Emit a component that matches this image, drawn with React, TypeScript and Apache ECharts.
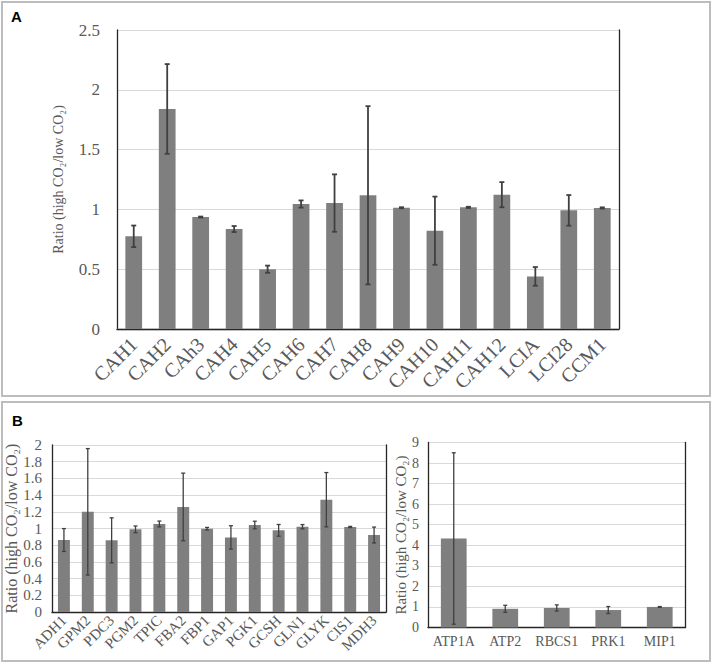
import React, { useEffect, useRef } from "react";
import * as echarts from "echarts";

// Panel A
const catsA = ["CAH1", "CAH2", "CAh3", "CAH4", "CAH5", "CAH6", "CAH7", "CAH8", "CAH9", "CAH10", "CAH11", "CAH12", "LCIA", "LCI28", "CCM1"];
const valsA = [0.775, 1.84, 0.936, 0.836, 0.5, 1.045, 1.053, 1.118, 1.014, 0.822, 1.017, 1.123, 0.44, 0.992, 1.012];
const errA = [0.09, 0.375, 0.004, 0.025, 0.03, 0.03, 0.24, 0.745, 0.004, 0.285, 0.005, 0.105, 0.078, 0.128, 0.005];

// Panel B (left)
const catsB1 = ["ADH1", "GPM2", "PDC3", "PGM2", "TPIC", "FBA2", "FBP1", "GAP1", "PGK1", "GCSH", "GLN1", "GLYK", "CIS1", "MDH3"];
const valsB1 = [0.862, 1.2, 0.858, 0.99, 1.054, 1.258, 0.998, 0.893, 1.042, 0.978, 1.022, 1.345, 1.018, 0.922];
const errB1 = [0.137, 0.757, 0.27, 0.04, 0.035, 0.405, 0.015, 0.14, 0.045, 0.07, 0.025, 0.325, 0.007, 0.095];

// Panel B (right)
const catsB2 = ["ATP1A", "ATP2", "RBCS1", "PRK1", "MIP1"];
const valsB2 = [4.33, 0.91, 0.95, 0.85, 1.0];
const errB2 = [4.17, 0.17, 0.15, 0.17, 0.02];

const yName = "Ratio (high CO\u2082/low CO\u2082)";

const SERIF = "'Liberation Serif', 'Times New Roman', serif";
const TXT = "#595959";
const GRID = "#d9d9d9";
const FRAME = "#262626";
const BAR = "#7f7f7f";
const ERR = "#404040";

function errData(vals: number[], errs: number[]) {
  return vals.map((v, i) => [i, v - errs[i], v + errs[i]]);
}

function errSeries(xi: number, yi: number, data: number[][], cap: number, lw: number) {
  return {
    type: "custom",
    xAxisIndex: xi,
    yAxisIndex: yi,
    z: 5,
    encode: { x: 0, y: [1, 2] },
    data,
    renderItem: (params: any, api: any) => {
      const x = api.value(0);
      const lo = api.coord([x, api.value(1)]);
      const hi = api.coord([x, api.value(2)]);
      const st = { stroke: ERR, lineWidth: lw };
      return {
        type: "group",
        children: [
          { type: "line", shape: { x1: hi[0], y1: hi[1], x2: lo[0], y2: lo[1] }, style: st },
          { type: "line", shape: { x1: hi[0] - cap, y1: hi[1], x2: hi[0] + cap, y2: hi[1] }, style: st },
          { type: "line", shape: { x1: lo[0] - cap, y1: lo[1], x2: lo[0] + cap, y2: lo[1] }, style: st },
        ],
      };
    },
  };
}

function frameX(gi: number, cats: string[]) {
  return {
    type: "category",
    gridIndex: gi,
    position: "top",
    data: cats,
    axisLine: { show: true, lineStyle: { color: FRAME, width: 1.3 } },
    axisTick: { show: false },
    axisLabel: { show: false },
    splitLine: { show: false },
  };
}

function frameY(gi: number, max: number) {
  return {
    type: "value",
    gridIndex: gi,
    position: "right",
    min: 0,
    max,
    axisLine: { show: true, lineStyle: { color: FRAME, width: 1.3 } },
    axisTick: { show: false },
    axisLabel: { show: false },
    splitLine: { show: false },
  };
}

export default function App() {
  const ref = useRef<HTMLDivElement>(null);
  useEffect(() => {
    if (!ref.current) return;
    const chart = echarts.init(ref.current, null, { renderer: "svg" });
    chart.setOption({
      animation: false,
      backgroundColor: "#ffffff",
      grid: [
        { left: 117, top: 30, width: 502, height: 299 },
        { left: 52, top: 445, width: 334, height: 167 },
        { left: 428, top: 442.5, width: 257.5, height: 185 },
      ],
      graphic: [
        { type: "rect", shape: { x: 2, y: 2, width: 708, height: 394 }, style: { fill: "none", stroke: "#bdbdbd", lineWidth: 2 } },
        { type: "rect", shape: { x: 2, y: 402, width: 708, height: 259 }, style: { fill: "none", stroke: "#bdbdbd", lineWidth: 2 } },
        { type: "text", x: 11, y: 9, style: { text: "A", font: "bold 15px 'Liberation Sans', Arial, sans-serif", fill: "#000" } },
        { type: "text", x: 12, y: 413, style: { text: "B", font: "bold 15px 'Liberation Sans', Arial, sans-serif", fill: "#000" } },
      ],
      xAxis: [
        {
          type: "category",
          gridIndex: 0,
          data: catsA,
          axisLine: { show: true, lineStyle: { color: "#bfbfbf", width: 1.3 } },
          axisTick: { show: false },
          axisLabel: { rotate: 45, margin: 12, color: TXT, fontFamily: SERIF, fontSize: 20, interval: 0 },
        },
        frameX(0, catsA),
        {
          type: "category",
          gridIndex: 1,
          data: catsB1,
          axisLine: { show: true, lineStyle: { color: "#bfbfbf", width: 1 } },
          axisTick: { show: false },
          axisLabel: { rotate: 45, margin: 6, color: TXT, fontFamily: SERIF, fontSize: 15, interval: 0 },
        },
        frameX(1, catsB1),
        {
          type: "category",
          gridIndex: 2,
          data: catsB2,
          axisLine: { show: true, lineStyle: { color: "#bfbfbf", width: 1 } },
          axisTick: { show: false },
          axisLabel: { margin: 7, color: TXT, fontFamily: SERIF, fontSize: 14, interval: 0 },
        },
        frameX(2, catsB2),
      ],
      yAxis: [
        {
          type: "value",
          gridIndex: 0,
          min: 0,
          max: 2.5,
          interval: 0.5,
          name: yName,
          nameLocation: "middle",
          nameGap: 52,
          nameTextStyle: { color: TXT, fontFamily: SERIF, fontSize: 14 },
          axisLine: { show: true, lineStyle: { color: FRAME, width: 1.3 } },
          axisTick: { show: false },
          axisLabel: { margin: 17, color: TXT, fontFamily: SERIF, fontSize: 17 },
          splitLine: { lineStyle: { color: GRID, width: 1 } },
        },
        frameY(0, 2.5),
        {
          type: "value",
          gridIndex: 1,
          min: 0,
          max: 2,
          interval: 0.2,
          name: yName,
          nameLocation: "middle",
          nameGap: 30,
          nameTextStyle: { color: TXT, fontFamily: SERIF, fontSize: 16 },
          axisLine: { show: true, lineStyle: { color: FRAME, width: 1.3 } },
          axisTick: { show: false },
          axisLabel: { margin: 10, color: TXT, fontFamily: SERIF, fontSize: 15 },
          splitLine: { lineStyle: { color: GRID, width: 1 } },
        },
        frameY(1, 2),
        {
          type: "value",
          gridIndex: 2,
          min: 0,
          max: 9,
          interval: 1,
          name: yName,
          nameLocation: "middle",
          nameGap: 20,
          nameTextStyle: { color: TXT, fontFamily: SERIF, fontSize: 15 },
          axisLine: { show: true, lineStyle: { color: FRAME, width: 1.3 } },
          axisTick: { show: false },
          axisLabel: { margin: 9, color: TXT, fontFamily: SERIF, fontSize: 14 },
          splitLine: { lineStyle: { color: GRID, width: 1 } },
        },
        frameY(2, 9),
      ],
      series: [
        { type: "bar", xAxisIndex: 0, yAxisIndex: 0, data: valsA, barWidth: "50%", itemStyle: { color: BAR } },
        errSeries(0, 0, errData(valsA, errA), 2.5, 1.8),
        { type: "bar", xAxisIndex: 2, yAxisIndex: 2, data: valsB1, barWidth: "50%", itemStyle: { color: BAR } },
        errSeries(2, 2, errData(valsB1, errB1), 2, 1.3),
        { type: "bar", xAxisIndex: 4, yAxisIndex: 4, data: valsB2, barWidth: "50%", itemStyle: { color: BAR } },
        errSeries(4, 4, errData(valsB2, errB2), 2, 1.3),
      ],
    });
    return () => chart.dispose();
  }, []);
  return (
    <div
      ref={ref}
      style={{ position: "absolute", left: 0, top: 0, width: 713, height: 664, background: "#fff" }}
    />
  );
}
